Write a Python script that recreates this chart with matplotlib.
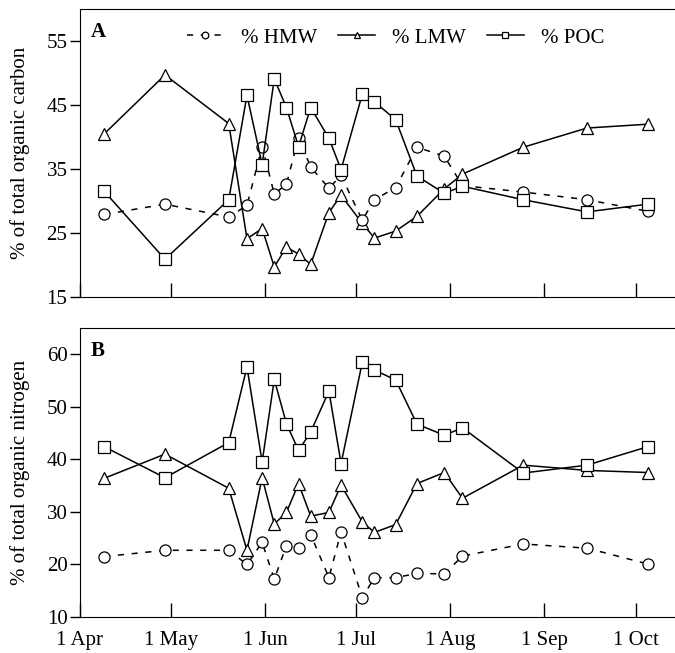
import numpy as np
import pandas as pd
import matplotlib
matplotlib.use('Agg')
import matplotlib.pyplot as plt
import matplotlib.dates as mdates

plt.rcParams['font.family'] = ['Liberation Serif', 'DejaVu Serif']

# sampling dates (year arbitrary)
dates = pd.to_datetime([
    '1998-04-09', '1998-04-29', '1998-05-20', '1998-05-26', '1998-05-31',
    '1998-06-04', '1998-06-08', '1998-06-12', '1998-06-16', '1998-06-22',
    '1998-06-26', '1998-07-03', '1998-07-07', '1998-07-14', '1998-07-21',
    '1998-07-30', '1998-08-05', '1998-08-25', '1998-09-15', '1998-10-05'])

# panel A - organic carbon
hmw_c = [27.9, 29.5, 27.5, 29.3, 38.5, 31.1, 32.6, 39.9, 35.3, 32.0,
         34.0, 27.0, 30.2, 32.1, 38.4, 37.0, 32.4, 31.4, 30.2, 28.4]
lmw_c = [40.5, 49.7, 42.1, 24.1, 25.7, 19.7, 22.8, 21.7, 20.1, 28.2,
         30.9, 26.5, 24.2, 25.3, 27.6, 31.9, 34.2, 38.4, 41.4, 42.0]
poc_c = [31.5, 20.9, 30.2, 46.5, 35.7, 49.1, 44.6, 38.5, 44.6, 39.8,
         34.9, 46.7, 45.5, 42.7, 33.9, 31.2, 32.3, 30.2, 28.3, 29.5]

# panel B - organic nitrogen
hmw_n = [21.5, 22.7, 22.7, 20.0, 24.2, 17.2, 23.6, 23.1, 25.7, 17.5,
         26.2, 13.7, 17.5, 17.5, 18.3, 18.2, 21.6, 23.9, 23.1, 20.1]
lmw_n = [36.4, 41.0, 34.5, 22.7, 36.5, 27.7, 29.9, 35.4, 29.2, 29.9,
         35.1, 28.1, 26.1, 27.6, 35.4, 37.5, 32.6, 38.9, 37.9, 37.5]
poc_n = [42.4, 36.5, 43.2, 57.6, 39.5, 55.2, 46.8, 41.7, 45.2, 53.0,
         39.2, 58.5, 57.0, 55.1, 46.7, 44.6, 46.0, 37.4, 38.9, 42.4]

tick_dates = pd.to_datetime(['1998-04-01', '1998-05-01', '1998-06-01',
                             '1998-07-01', '1998-08-01', '1998-09-01', '1998-10-01'])
tick_labels = ['1 Apr', '1 May', '1 Jun', '1 Jul', '1 Aug', '1 Sep', '1 Oct']

fig = plt.figure(figsize=(6.75, 6.53), dpi=100)
axA = fig.add_axes([0.1185, 0.5452, 0.8815, 0.4410])
axB = fig.add_axes([0.1185, 0.0551, 0.8815, 0.4426])

mk = dict(markerfacecolor='white', markeredgecolor='black', markeredgewidth=0.9,
          color='black', linewidth=1.1, markersize=8)


def draw(ax, hmw, lmw, poc):
    ax.plot(dates, hmw, marker='o', linestyle=(0, (4, 5)), label='% HMW', zorder=3, **mk)
    ax.plot(dates, lmw, marker='^', linestyle='-', label='% LMW', zorder=2, **mk)
    ax.plot(dates, poc, marker='s', linestyle='-', label='% POC', zorder=4, **mk)
    ax.set_xlim(pd.Timestamp('1998-04-01'), pd.Timestamp('1998-10-14'))
    ax.set_xticks(tick_dates)
    ax.spines['right'].set_visible(False)
    ax.tick_params(axis='x', direction='in', length=10, width=1, labelsize=15, pad=10)
    ax.tick_params(axis='y', direction='out', length=7, width=1, labelsize=15, pad=2)


draw(axA, hmw_c, lmw_c, poc_c)
axA.set_ylim(15, 60)
axA.set_yticks([15, 25, 35, 45, 55])
axA.set_xticklabels([])
axA.set_ylabel('% of total organic carbon', fontsize=15, labelpad=12)
axA.text(0.018, 0.955, 'A', transform=axA.transAxes, fontsize=15,
         fontweight='bold', va='top')
axA.legend(loc='center', bbox_to_anchor=(0.53, 0.9), ncol=3, frameon=False,
           fontsize=15, markerscale=0.6, handlelength=1.8, columnspacing=1.0,
           handletextpad=0.8)

draw(axB, hmw_n, lmw_n, poc_n)
axB.set_ylim(10, 65)
axB.set_yticks([10, 20, 30, 40, 50, 60])
axB.set_xticklabels(tick_labels)
axB.set_ylabel('% of total organic nitrogen', fontsize=15, labelpad=12)
axB.text(0.018, 0.955, 'B', transform=axB.transAxes, fontsize=15,
         fontweight='bold', va='top')

fig.savefig('out.png', dpi=100)
